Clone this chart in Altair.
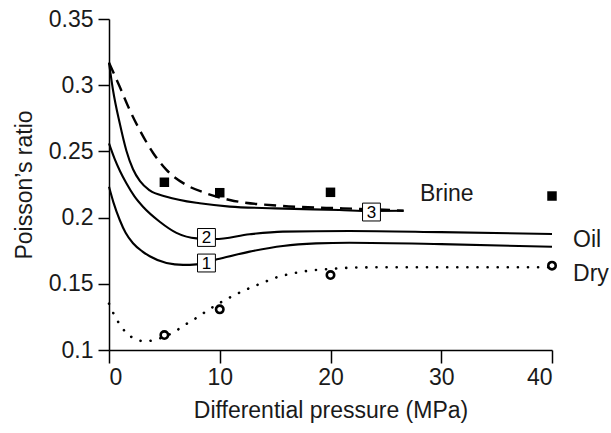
import altair as alt
import pandas as pd

FONT = "Liberation Sans"

# Curves
c1_x = [0, 0.4, 0.97, 1.5, 2.17, 3.0, 3.68, 5.19, 6.69, 7.9, 9.55, 12.7, 15.7, 18.7, 21.7, 30, 40]
c1_y = [0.2233, 0.2115, 0.1982, 0.1885, 0.1806, 0.1745, 0.1708, 0.1657, 0.1643, 0.1647, 0.168, 0.1743, 0.1786,
        0.1805, 0.181, 0.180, 0.178]

c2_x = [0, 0.5, 1.0, 1.57, 2.3, 3.07, 4.58, 6.09, 7.9, 9.55, 12.7, 15.7, 21.7, 30, 40]
c2_y = [0.256, 0.2445, 0.235, 0.2259, 0.2160, 0.2082, 0.1969, 0.1885, 0.1843, 0.1838, 0.1874, 0.1894, 0.1899,
        0.189, 0.1876]

c3_x = [0, 0.36, 0.97, 1.57, 2.17, 2.8, 3.68, 5.19, 8.19, 10.9, 15, 20.8, 23.7, 26.6]
c3_y = [0.317, 0.2964, 0.2712, 0.2505, 0.2365, 0.2275, 0.2205, 0.2158, 0.2108, 0.2083, 0.207, 0.2057, 0.2050, 0.2052]

brine_x = [0, 0.97, 1.87, 2.77, 3.97, 5.19, 6.99, 8.8, 10.9, 15.7, 21.1, 23.7, 26.6]
brine_y = [0.317, 0.2988, 0.2813, 0.2662, 0.249, 0.236, 0.2246, 0.2183, 0.2133, 0.2088, 0.207, 0.2063, 0.2052]

dry_x = [0, 0.5, 1, 1.5, 2, 2.5, 3, 3.5, 4, 5, 6, 7, 8, 9, 10, 11, 12, 13, 14, 15, 16, 17, 18, 20, 22, 25, 30, 35, 40]
dry_y = [0.135, 0.126, 0.119, 0.1135, 0.110, 0.1078, 0.1068, 0.1067, 0.1075, 0.110, 0.1143, 0.1197, 0.1248,
         0.1305, 0.1355, 0.140, 0.1442, 0.1478, 0.1512, 0.1545, 0.1568, 0.1585, 0.1598, 0.1612, 0.1622,
         0.1625, 0.1625, 0.1625, 0.1625]

# Measured points
sq_x = [5, 10, 20, 40]
sq_y = [0.2267, 0.2188, 0.2191, 0.2163]
ci_x = [5, 10, 20, 40]
ci_y = [0.1113, 0.1307, 0.1566, 0.1637]

# Numbered boxes
box_lab = ["1", "2", "3"]
box_x = [8.8, 8.8, 23.7]
box_y = [0.1657, 0.185, 0.2042]

# Series labels
lab_txt = ["Brine", "Oil", "Dry"]
lab_x = [28.07, 41.9, 41.9]
lab_y = [0.2128, 0.178, 0.1523]

x_ticks = [0, 10, 20, 30, 40]
y_ticks = [0.1, 0.15, 0.2, 0.25, 0.3, 0.35]

xs = alt.Scale(domain=[0, 40], nice=False)
ys = alt.Scale(domain=[0.1, 0.35], nice=False, zero=False)

X = alt.X("x:Q", scale=xs, axis=alt.Axis(values=x_ticks, format="d", title="Differential pressure (MPa)",
                                          tickSize=13, titlePadding=10, labelPadding=3))
Y = alt.Y("y:Q", scale=ys, axis=alt.Axis(values=y_ticks, format=".2~f", title="Poisson\u2019s ratio",
                                          tickSize=11, titlePadding=12, labelPadding=5))

def df(xv, yv):
    return pd.DataFrame({"x": xv, "y": yv})

base_line = dict(interpolate="monotone", color="black", clip=False)

l1 = alt.Chart(df(c1_x, c1_y)).mark_line(strokeWidth=2.1, **base_line).encode(x=X, y=Y)
l2 = alt.Chart(df(c2_x, c2_y)).mark_line(strokeWidth=2.1, **base_line).encode(x="x:Q", y="y:Q")
l3 = alt.Chart(df(c3_x, c3_y)).mark_line(strokeWidth=2.1, **base_line).encode(x="x:Q", y="y:Q")
lb = alt.Chart(df(brine_x, brine_y)).mark_line(strokeWidth=2.4, strokeDash=[12, 7], **base_line).encode(x="x:Q", y="y:Q")
ld = alt.Chart(df(dry_x, dry_y)).mark_line(strokeWidth=2.6, strokeDash=[0.1, 10], strokeCap="round",
                                            **base_line).encode(x="x:Q", y="y:Q")

sq = alt.Chart(df(sq_x, sq_y)).mark_square(size=90, color="black", opacity=1, clip=False).encode(x="x:Q", y="y:Q")
ci = alt.Chart(df(ci_x, ci_y)).mark_point(shape="circle", size=55, filled=False, stroke="black",
                                           strokeWidth=2.6, opacity=1, clip=False).encode(x="x:Q", y="y:Q")

bdf = pd.DataFrame({"x": box_x, "y": box_y, "t": box_lab})
boxes = alt.Chart(bdf).mark_square(size=320, fill="white", stroke="black", strokeWidth=1,
                                   opacity=1, fillOpacity=1).encode(x="x:Q", y="y:Q")
btxt = alt.Chart(bdf).mark_text(font=FONT, fontSize=17, color="black", baseline="middle",
                                align="center", dy=1).encode(x="x:Q", y="y:Q", text="t:N")

ldf = pd.DataFrame({"x": lab_x, "y": lab_y, "t": lab_txt})
labels = alt.Chart(ldf).mark_text(font=FONT, fontSize=23, color="#1a1a1a", align="left",
                                  baseline="alphabetic", clip=False).encode(x="x:Q", y="y:Q", text="t:N")

chart = alt.layer(l1, l2, l3, lb, ld, sq, ci, boxes, btxt, labels).properties(
    width=443, height=331,
    background="white",
    autosize=alt.AutoSizeParams(type="none"),
    padding={"left": 109, "top": 19, "right": 59, "bottom": 83},
).configure_view(stroke=None).configure_axis(
    grid=False, domainColor="black", domainWidth=1.5, tickColor="black", tickWidth=1.5,
    labelFont=FONT, labelFontSize=23, labelColor="#1a1a1a",
    titleFont=FONT, titleFontSize=23, titleFontWeight="normal", titleColor="#1a1a1a",
)

chart.save("out.html", embed_options={"renderer": "svg", "actions": False})
